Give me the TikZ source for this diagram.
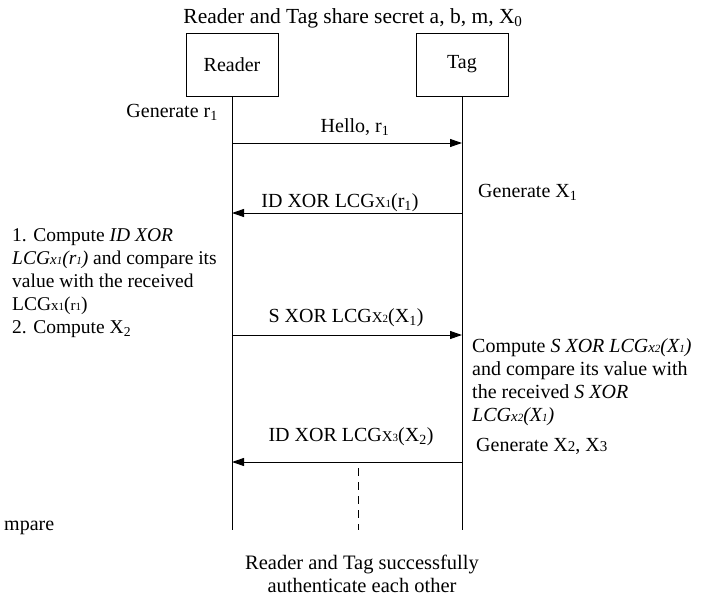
\documentclass[tikz,border=0pt]{standalone}
\usepackage{fontspec}
\setmainfont{Liberation Serif}
\usetikzlibrary{arrows.meta}
\newcommand{\smx}[1]{{\fontsize{15}{15}\selectfont #1}}
\newcommand{\tnx}[1]{{\fontsize{11}{11}\selectfont #1}}
\newcommand{\subx}[1]{\textsubscript{#1}}
\begin{document}
\begin{tikzpicture}[x=1pt,y=-1pt,
  every node/.style={font=\fontsize{20}{21.5}\selectfont, inner sep=0pt},
  actor/.style={draw, line width=0.8pt, minimum width=92pt, minimum height=63pt},
  life/.style={line width=0.8pt},
  msg/.style={line width=1pt, -{Triangle[length=12pt,width=8pt]}},
  txt/.style={align=left, anchor=north west}]
\useasboundingbox (0,0) rectangle (717,597);
\node[font=\fontsize{21.5}{23}\selectfont] (title) at (353,18) {Reader and Tag share secret a, b, m, X\subx{0}};
\node[actor] (reader) at (232,64.5) {Reader};
\node[actor] (tag) at (462,64.5) {Tag};
\coordinate (rEnd) at (232,530);
\coordinate (tEnd) at (462,530);
\draw[life] (reader.south) -- (rEnd);
\draw[life] (tag.south) -- (tEnd);
% messages
\coordinate (r1) at (232,143); \coordinate (t1) at (462,143);
\coordinate (r2) at (232,213); \coordinate (t2) at (462,213);
\coordinate (r3) at (232,335); \coordinate (t3) at (462,335);
\coordinate (r4) at (232,462); \coordinate (t4) at (462,462);
\draw[msg] (r1) -- (t1) node[midway, yshift=16pt, xshift=8pt] (m1) {Hello, r\subx{1}};
\draw[msg] (t2) -- (r2) node[midway, yshift=10pt, xshift=-7pt] (m2) {ID XOR LCG\smx{X}\tnx{1}(r\subx{1})};
\draw[msg] (r3) -- (t3) node[midway, yshift=17pt, xshift=-1pt] (m3) {S XOR LCG\smx{X}\tnx{2}(X\subx{1})};
\draw[msg] (t4) -- (r4) node[midway, yshift=25pt, xshift=4pt] (m4) {ID XOR LCG\smx{X}\tnx{3}(X\subx{2})};
% side texts
\node[anchor=east] (g1) at (218,112) {Generate r\subx{1}};
\node[anchor=west] (g2) at (478,192) {Generate X\subx{1}};
\node[txt, font=\fontsize{19.5}{23}\selectfont] (left) at (12,228) {1. Compute \textit{ID XOR}\\
\textit{LCG\smx{x}\tnx{1}(r\tnx{1})} and compare its\\
value with the received\\
LCG\smx{x}\tnx{1}(\smx{r}\tnx{1})\\
2. Compute X\subx{2}};
\node[txt, font=\fontsize{20}{23.2}\selectfont] (right) at (472,338) {Compute \textit{S XOR LCG\smx{x}\tnx{2}(X\tnx{1})}\\
and compare its value with\\
the received \textit{S XOR}\\
\textit{LCG\smx{x}\tnx{2}(X\tnx{1})}};
\node[anchor=west] (g3) at (476,446) {Generate X\smx{2}, X\smx{3}};
% dashed
\coordinate (d1) at (358,468); \coordinate (d2) at (358,530);
\draw[dashed, dash pattern=on 8pt off 6pt, line width=0.8pt] (d1) -- (d2);
\node[anchor=west] (mp) at (4,528) {mpare};
\node[align=center, font=\fontsize{20.5}{23.5}\selectfont] (bottom) at (362,574) {Reader and Tag successfully\\ authenticate each other};
\end{tikzpicture}
\end{document}
